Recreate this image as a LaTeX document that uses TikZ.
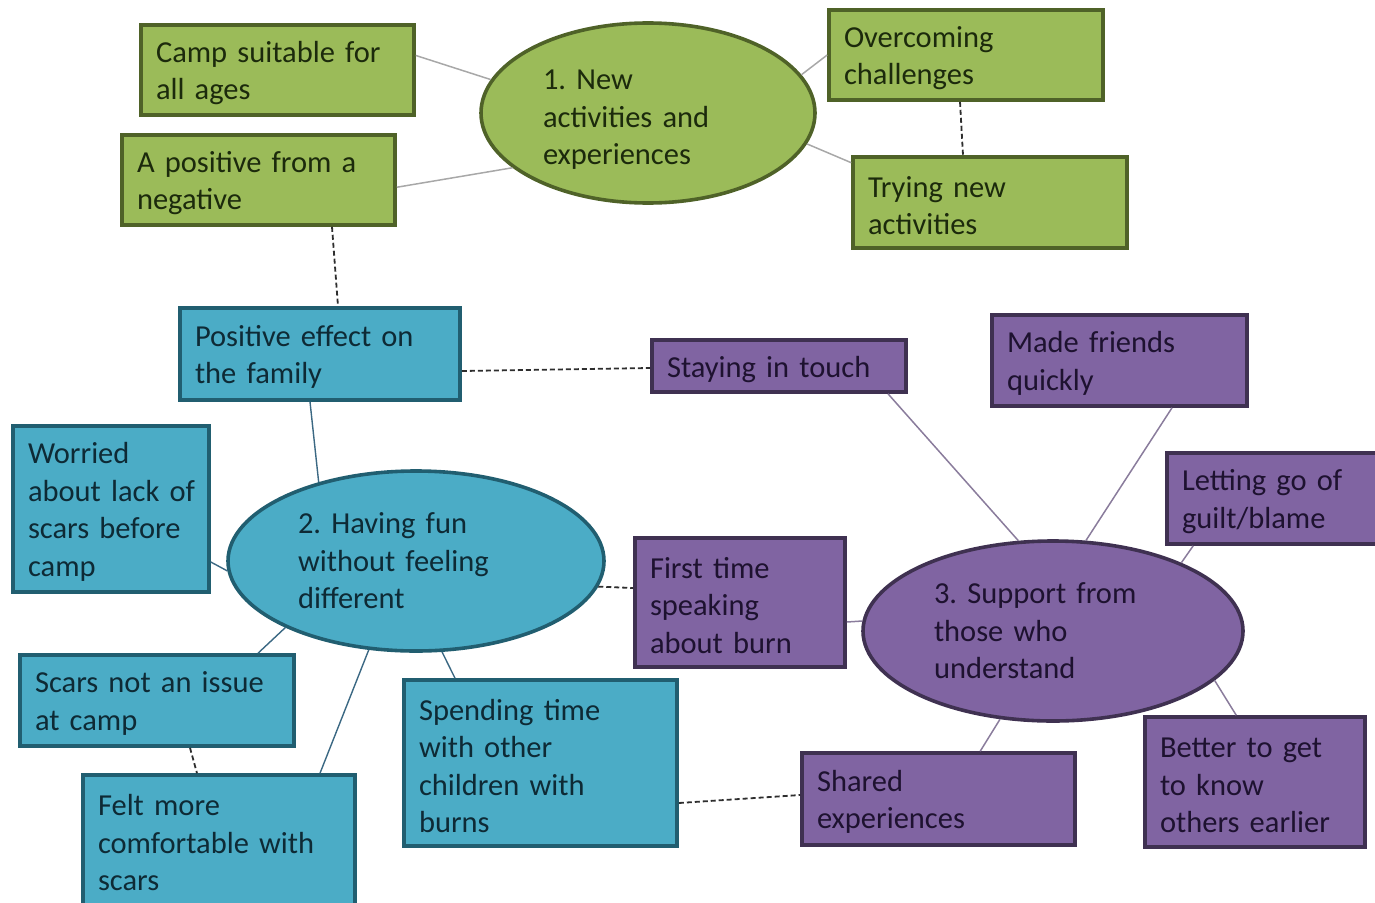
\documentclass[tikz,border=0pt]{standalone}
\usepackage{fontspec}
\setmainfont{Carlito}
\usetikzlibrary{shapes.geometric,calc}
\frenchspacing

\definecolor{gfill}{HTML}{9BBB59}
\definecolor{gline}{HTML}{4F6228}
\definecolor{gtext}{HTML}{1C2A0C}
\definecolor{bfill}{HTML}{4BACC6}
\definecolor{bline}{HTML}{215E70}
\definecolor{btext}{HTML}{0E2A35}
\definecolor{pfill}{HTML}{8064A2}
\definecolor{pline}{HTML}{3F3151}
\definecolor{ptext}{HTML}{1E1230}
\definecolor{glink}{HTML}{A8A8A8}
\definecolor{blink}{HTML}{3B6883}
\definecolor{plink}{HTML}{8A7C9C}
\definecolor{dlink}{HTML}{2E2E2E}

\tikzset{
  txt/.style={font=\fontsize{30.5}{37.5}\selectfont},
  % a tall invisible rule on the first line lowers the text block a little
  lift/.style={execute at begin node={\rule{0pt}{#1}}},
  box/.style n args={2}{txt, rectangle, line width=3.6pt, inner xsep=15pt, inner ysep=0pt,
    minimum width=#1, minimum height=#2, text width=#1-30pt, align=left, lift=27pt},
  hub/.style={txt, ellipse, line width=3.6pt, inner sep=0pt, align=left},
  green/.style={fill=gfill, draw=gline, text=gtext},
  blue/.style={fill=bfill, draw=bline, text=btext},
  purple/.style={fill=pfill, draw=pline, text=ptext},
  glk/.style={draw=glink, line width=1.5pt},
  blk/.style={draw=blink, line width=1.4pt},
  plk/.style={draw=plink, line width=1.5pt},
  dlk/.style={draw=dlink, line width=1.8pt, dash pattern=on 5pt off 3pt},
}

\begin{document}
\begin{tikzpicture}[x=1pt,y=-1pt]
\useasboundingbox (0,0) rectangle (1375,902);

% theme 1 (green)
\node[box={273pt}{90pt}, green] (camp) at (277.5,70) {Camp suitable for\\all ages};
\node[box={273pt}{90pt}, green] (apos) at (258.5,180) {A positive from a\\negative};
\node[box={274pt}{90pt}, green] (over) at (966,55) {Overcoming\\challenges};
\node[box={274pt}{91pt}, green] (trynew) at (990,202.5) {Trying new\\activities};
\node[hub, green, text width=210pt, minimum width=334pt, minimum height=180pt, lift=33pt]
  (e1) at (648,113) {1. New\\activities and\\experiences};

% theme 2 (blue)
\node[box={280pt}{92pt}, blue] (posfam) at (320,354) {Positive effect on\\the family};
\node[box={196pt}{166pt}, blue] (worried) at (111,509)
  {\mbox{Worried}\\\mbox{about lack of}\\\mbox{scars before}\\\mbox{camp}};
\node[hub, blue, text width=236pt, minimum width=376pt, minimum height=180pt] (e2) at (416,561)
  {2. Having fun\\without feeling\\different};
\node[box={274pt}{91pt}, blue] (scars) at (157,700.5) {Scars not an issue\\at camp};
\node[box={272pt}{130pt}, blue] (felt) at (219,840) {Felt more\\comfortable with\\scars};
\node[box={273pt}{166pt}, blue] (spend) at (540.5,763) {Spending time\\with other\\children with\\burns};

% theme 3 (purple)
\node[box={254pt}{52pt}, purple, lift=29pt] (staying) at (779,366) {Staying in touch};
\node[box={255pt}{91pt}, purple] (made) at (1119.5,360.5) {Made friends\\quickly};
\node[box={230pt}{91pt}, purple] (letting) at (1282,498.5) {Letting go of\\guilt/blame};
\node[box={210pt}{129pt}, purple] (first) at (740,602.5) {First time\\speaking\\about burn};
\node[hub, purple, text width=238pt, minimum width=380pt, minimum height=180pt] (e3) at (1053,631)
  {3. Support from\\those who\\understand};
\node[box={273pt}{92pt}, purple] (shared) at (938.5,799) {Shared\\experiences};
\node[box={220pt}{130pt}, purple] (better) at (1255,782) {Better to get\\to know\\others earlier};

% links of theme 1
\draw[glk] (camp.6) -- (e1.168);
\draw[glk] (apos.-3) -- (e1.202);
\draw[glk] (e1.14) -- (over.west);
\draw[glk] (e1.-11) -- (trynew.164);
\draw[dlk] ($(over.south)+(-6,0)$) -- ($(trynew.north)+(-27,0)$);
\draw[dlk] ($(apos.south)+(73.5,0)$) -- ($(posfam.north)+(18,0)$);

% links of theme 2
\draw[dlk] ($(posfam.east)+(0,17)$) -- ($(staying.west)+(0,2)$);
\draw[blk] ($(posfam.south)+(-10,0)$) -- (e2.141.7);
\draw[blk] ($(worried.east)+(0,53)$) -- (e2.183.7);
\draw[blk] (e2.207.4) -- ($(scars.north)+(101,0)$);
\draw[dlk] ($(scars.south)+(33,0)$) -- ($(felt.north)+(-22,0)$);
\draw[blk] (e2.242.7) -- ($(felt.north)+(101,0)$);
\draw[blk] (e2.286.5) -- ($(spend.north)+(-85.5,0)$);
\draw[dlk] (e2.-8.2) -- ($(first.west)+(0,-14.5)$);
\draw[dlk] ($(spend.east)+(0,40)$) -- ($(shared.west)+(0,-4)$);

% links of theme 3
\draw[plk] ($(first.east)+(0,19.5)$) -- (e3.177.3);
\draw[plk] ($(staying.south)+(109,0)$) -- (e3.111.8);
\draw[plk] ($(made.south)+(52.5,0)$) -- (e3.70.4);
\draw[plk] ($(letting.south west)+(28,0)$) -- (e3.28.9);
\draw[plk] (e3.-17.7) -- ($(better.north west)+(93,0)$);
\draw[plk] (e3.239.2) -- ($(shared.north west)+(180,0)$);
\end{tikzpicture}
\end{document}
